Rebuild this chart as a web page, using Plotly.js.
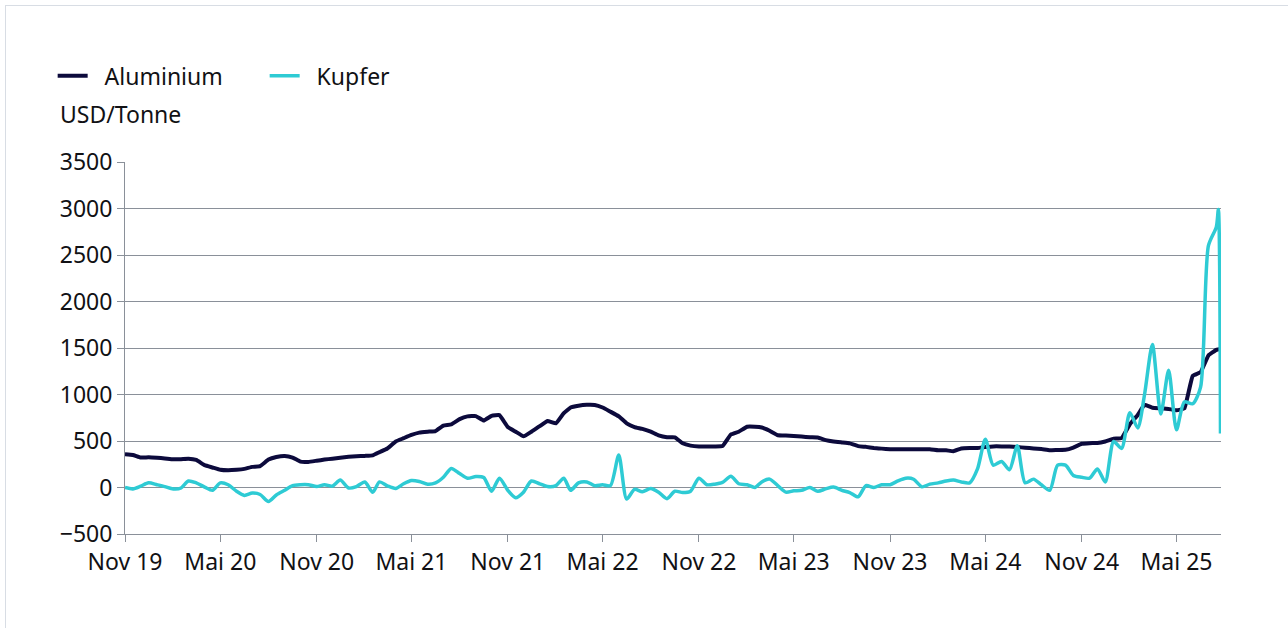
<!DOCTYPE html>
<html>
<head>
<meta charset="utf-8">
<script src="https://cdn.plot.ly/plotly-3.0.1.min.js"></script>
<style>
  html, body { margin: 0; padding: 0; background: #ffffff; }
  #wrap { position: relative; width: 1288px; height: 628px; overflow: hidden; }
  #chart { width: 1288px; height: 628px; }
  #frame { position: absolute; left: 5px; top: 5px; width: 1400px; height: 700px;
           border-left: 1px solid #d8dde4; border-top: 1px solid #d8dde4; pointer-events: none; }
</style>
</head>
<body>
<div id="wrap">
  <div id="chart"></div>
  <div id="frame"></div>
</div>
<script>
// Half-monthly observation dates (plus the last days of July 2025)
const dates = [
  "2019-11-01","2019-11-16","2019-12-01","2019-12-16",
  "2020-01-01","2020-01-16","2020-02-01","2020-02-16","2020-03-01","2020-03-16","2020-04-01","2020-04-16",
  "2020-05-01","2020-05-16","2020-06-01","2020-06-16","2020-07-01","2020-07-16","2020-08-01","2020-08-16",
  "2020-09-01","2020-09-16","2020-10-01","2020-10-16","2020-11-01","2020-11-16","2020-12-01","2020-12-16",
  "2021-01-01","2021-01-16","2021-02-01","2021-02-16","2021-03-01","2021-03-16","2021-04-01","2021-04-16",
  "2021-05-01","2021-05-16","2021-06-01","2021-06-16","2021-07-01","2021-07-16","2021-08-01","2021-08-16",
  "2021-09-01","2021-09-16","2021-10-01","2021-10-16","2021-11-01","2021-11-16","2021-12-01","2021-12-16",
  "2022-01-01","2022-01-16","2022-02-01","2022-02-16","2022-03-01","2022-03-16","2022-04-01","2022-04-16",
  "2022-05-01","2022-05-16","2022-06-01","2022-06-16","2022-07-01","2022-07-16","2022-08-01","2022-08-16",
  "2022-09-01","2022-09-16","2022-10-01","2022-10-16","2022-11-01","2022-11-16","2022-12-01","2022-12-16",
  "2023-01-01","2023-01-16","2023-02-01","2023-02-16","2023-03-01","2023-03-16","2023-04-01","2023-04-16",
  "2023-05-01","2023-05-16","2023-06-01","2023-06-16","2023-07-01","2023-07-16","2023-08-01","2023-08-16",
  "2023-09-01","2023-09-16","2023-10-01","2023-10-16","2023-11-01","2023-11-16","2023-12-01","2023-12-16",
  "2024-01-01","2024-01-16","2024-02-01","2024-02-16","2024-03-01","2024-03-16","2024-04-01","2024-04-16",
  "2024-05-01","2024-05-16","2024-06-01","2024-06-16","2024-07-01","2024-07-16","2024-08-01","2024-08-16",
  "2024-09-01","2024-09-16","2024-10-01","2024-10-16","2024-11-01","2024-11-16","2024-12-01","2024-12-16",
  "2025-01-01","2025-01-16","2025-02-01","2025-02-16","2025-03-01","2025-03-16","2025-04-01","2025-04-16",
  "2025-05-01","2025-05-16","2025-06-01","2025-06-16","2025-07-01","2025-07-16","2025-07-20","2025-07-24"
];

// USD/Tonne
const aluminium = [
  357,350,322,325,
  320,313,303,305,310,296,240,215,190,185,190,200,222,230,300,328,339,322,278,275,
  288,300,310,320,330,336,340,346,380,420,495,530,565,590,600,607,665,678,735,765,
  768,720,770,778,650,600,550,600,660,715,690,800,860,880,890,888,860,815,765,690,
  650,630,600,560,540,540,475,450,440,440,442,446,570,600,653,653,645,610,562,558,
  553,548,540,537,510,495,485,475,445,437,425,418,412,411,411,411,411,411,400,400,
  390,420,424,425,435,442,442,440,435,428,420,413,400,404,406,430,470,477,478,495,
  524,531,680,780,890,858,852,845,830,850,1200,1240,1420,1480,1485,1490
];

const kupfer = [
  0,-15,15,50,
  30,10,-15,-5,70,50,5,-30,50,30,-40,-85,-60,-75,-150,-80,-30,20,30,30,
  10,30,15,80,-5,10,60,-50,60,18,-10,40,75,65,36,50,110,205,150,100,
  118,107,-40,100,-30,-110,-50,70,40,10,20,100,-30,50,60,20,30,20,350,-125,
  -20,-45,-10,-50,-120,-40,-54,-40,100,30,36,55,120,40,30,0,60,90,18,-50,
  -36,-30,0,-40,-15,5,-30,-54,-100,20,0,30,30,70,100,89,7,36,50,70,
  80,60,50,200,520,240,280,190,450,50,90,29,-30,240,240,130,110,100,200,60,
  495,420,805,640,1000,1537,790,1260,620,920,900,1080,2600,2800,2990,580
];

const tickDates = ["2019-11-01","2020-05-01","2020-11-01","2021-05-01","2021-11-01","2022-05-01",
                   "2022-11-01","2023-05-01","2023-11-01","2024-05-01","2024-11-01","2025-05-01"];
const tickLabels = ["Nov 19","Mai 20","Nov 20","Mai 21","Nov 21","Mai 22",
                    "Nov 22","Mai 23","Nov 23","Mai 24","Nov 24","Mai 25"];
const yTicks = [-500,0,500,1000,1500,2000,2500,3000,3500];
const yTickLabels = ["\u2212500","0","500","1000","1500","2000","2500","3000","3500"];

const FONT = '"Noto Sans", "Open Sans", sans-serif';
const TXT = '#111114';
const GRID = '#8a9099';

const traces = [
  { x: dates, y: aluminium, type: 'scatter', mode: 'lines', name: '\u00a0\u00a0Aluminium',
    line: { color: '#0c0a3c', width: 4, shape: 'spline', smoothing: 0.3 } },
  { x: dates, y: kupfer, type: 'scatter', mode: 'lines', name: '\u00a0\u00a0Kupfer',
    line: { color: '#2ecbd4', width: 3.5, shape: 'spline', smoothing: 0.7 } }
];

const layout = {
  width: 1288, height: 628,
  margin: { l: 125, r: 67, t: 162, b: 94 },
  paper_bgcolor: '#ffffff', plot_bgcolor: '#ffffff',
  font: { family: FONT, size: 23, color: TXT },
  showlegend: true,
  legend: { orientation: 'h', x: -0.066, xanchor: 'left', y: 1.232, yanchor: 'middle',
            font: { family: FONT, size: 23, color: TXT },
            entrywidth: 167, entrywidthmode: 'pixels',
            bgcolor: 'rgba(0,0,0,0)' },
  xaxis: {
    type: 'date', range: ['2019-11-01', '2025-07-25'],
    tickmode: 'array', tickvals: tickDates, ticktext: tickLabels,
    ticks: 'outside', ticklen: 7, tickcolor: GRID, tickwidth: 1,
    showline: true, linecolor: GRID, linewidth: 1,
    showgrid: false, zeroline: false,
    tickfont: { family: FONT, size: 23, color: TXT }
  },
  yaxis: {
    range: [-500, 3500],
    tickmode: 'array', tickvals: yTicks, ticktext: yTickLabels,
    ticks: 'outside', ticklen: 7, tickcolor: GRID, tickwidth: 1,
    showline: true, linecolor: GRID, linewidth: 1,
    showgrid: true, gridcolor: GRID, gridwidth: 1,
    zeroline: true, zerolinecolor: GRID, zerolinewidth: 1,
    tickfont: { family: FONT, size: 23, color: TXT }
  },
  annotations: [
    { text: 'USD/Tonne', xref: 'paper', yref: 'paper', x: -0.061, y: 1.129,
      xanchor: 'left', yanchor: 'middle', showarrow: false,
      font: { family: FONT, size: 23, color: TXT } }
  ]
};

Plotly.newPlot('chart', traces, layout, { displayModeBar: false, staticPlot: true });
</script>
</body>
</html>
